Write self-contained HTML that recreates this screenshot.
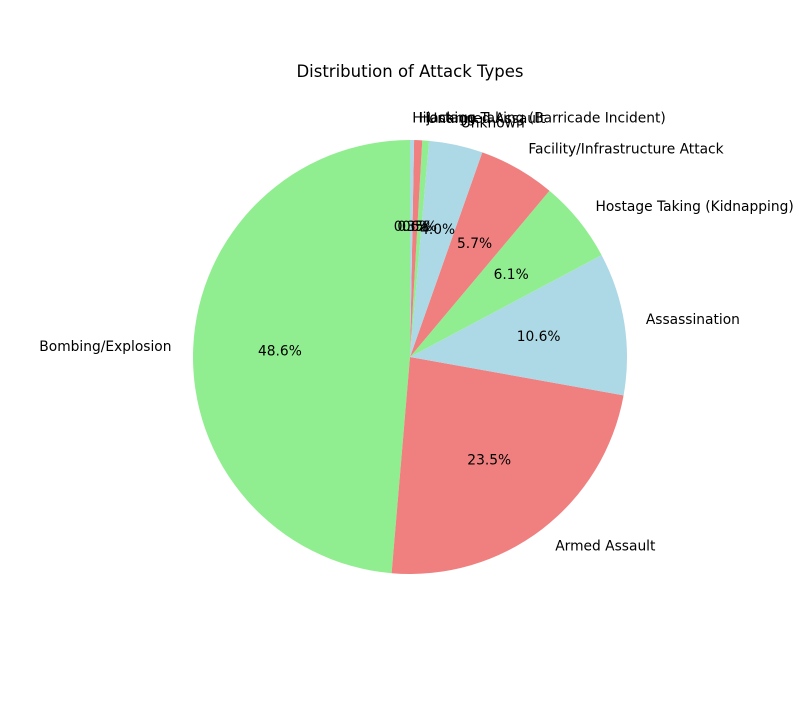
<!DOCTYPE html>
<html><head><meta charset="utf-8"><style>
body{margin:0;background:#fff;}
svg text{font-family:"DejaVu Sans","Liberation Sans",sans-serif;}
</style></head><body>
<svg id="chart" width="800" height="707" xmlns="http://www.w3.org/2000/svg">
<rect width="800" height="707" fill="#fff"/>
<text x="410" y="77" text-anchor="middle" font-size="16.5">Distribution of Attack Types</text>
<g id="slices"></g><g id="labels"></g>
</svg>
<script>
const categories = ["Bombing/Explosion","Armed Assault","Assassination","Hostage Taking (Kidnapping)","Facility/Infrastructure Attack","Unknown","Unarmed Assault","Hostage Taking (Barricade Incident)","Hijacking"];
const values = [48.6,23.5,10.6,6.1,5.7,4.0,0.5,0.6,0.3];
const colors = ["#90ee90","#f08080","#add8e6"];
const cx=410, cy=357, r=217;
const NS="http://www.w3.org/2000/svg";
const total=values.reduce((a,b)=>a+b,0);
const gS=document.getElementById('slices'), gL=document.getElementById('labels');
function pt(deg,rad){const a=deg*Math.PI/180;return [cx+rad*Math.cos(a), cy-rad*Math.sin(a)];}
let start=90;
values.forEach((v,i)=>{
  const sweep=v/total*360, end=start+sweep;
  const [x1,y1]=pt(start,r), [x2,y2]=pt(end,r);
  const p=document.createElementNS(NS,'path');
  p.setAttribute('d',`M${cx},${cy} L${x1},${y1} A${r},${r} 0 ${sweep>180?1:0} 0 ${x2},${y2} Z`);
  p.setAttribute('fill',colors[i%3]);
  
  
  gS.appendChild(p);
  const mid=start+sweep/2;
  const [lx,ly]=pt(mid,r*1.1);
  const t=document.createElementNS(NS,'text');
  t.setAttribute('x',lx);t.setAttribute('y',ly+4);t.setAttribute('font-size','13.8');
  t.setAttribute('text-anchor',Math.cos(mid*Math.PI/180)>=0?'start':'end');
  t.textContent=categories[i];
  
  
  gL.appendChild(t);
  const [px,py]=pt(mid,r*0.6);
  const q=document.createElementNS(NS,'text');
  q.setAttribute('x',px);q.setAttribute('y',py+4);q.setAttribute('font-size','13.8');
  q.setAttribute('text-anchor','middle');
  q.textContent=v.toFixed(1)+'%';
  
  
  gL.appendChild(q);
  start=end;
});
</script>
</body></html>
